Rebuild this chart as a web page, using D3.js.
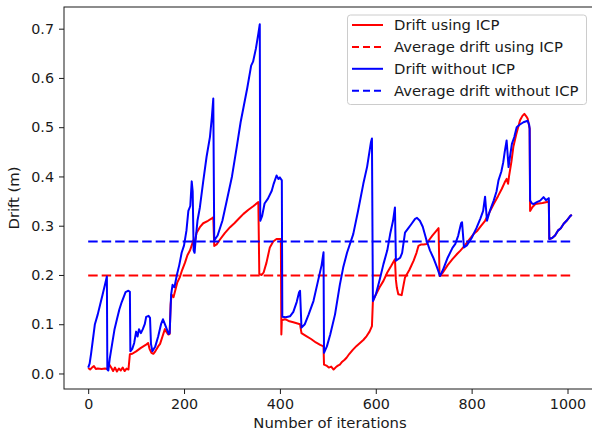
<!DOCTYPE html>
<html><head><meta charset="utf-8">
<script src="https://cdn.jsdelivr.net/npm/d3@7"></script>
<style>
body{margin:0;background:#fff;}
svg{display:block;font-family:"DejaVu Sans",sans-serif;}
</style></head>
<body><svg id="c" width="592" height="436"></svg>
<script>
const iterRed = [0,4,8,12,16,20,28,35,40,44,48,52,56,60,64,68,72,76,80,84,87,92,100,110,120,125,128,132,136,140,146,150,155,160,163,167,170,172,174,178,182,186,191,196,202,207,212,216,219,222,226,233,240,250,258,261,263,268,275,285,296,305,315,324,335,345,355,357,362,366,372,379,386,393,402,403,404,410,414,420,428,435,442,445,455,465,475,484,491,492,497,502,507,512,517,521,525,530,535,539,545,552,560,567,574,581,587,592,594,600,608,616,624,632,640,642,644,647,654,658,661,670,679,685,689,695,700,706,712,718,725,731,733,740,750,760,770,776,786,795,804,812,820,828,836,846,855,863,869,873,876,878,883,887,893,901,906,910,914,917,921,922,927,933,940,948,957,961,962,968,974,980,986,992,998,1006,1009];
const driftRed = [0.011,0.008,0.012,0.015,0.009,0.010,0.009,0.010,0.009,0.018,0.012,0.005,0.012,0.004,0.010,0.006,0.012,0.005,0.010,0.008,0.039,0.040,0.045,0.052,0.058,0.062,0.050,0.042,0.040,0.045,0.055,0.060,0.075,0.090,0.085,0.079,0.080,0.140,0.160,0.155,0.170,0.185,0.195,0.210,0.225,0.240,0.249,0.260,0.270,0.265,0.285,0.297,0.305,0.310,0.315,0.317,0.259,0.262,0.272,0.285,0.297,0.305,0.315,0.324,0.333,0.340,0.348,0.202,0.200,0.205,0.225,0.256,0.268,0.273,0.273,0.079,0.108,0.110,0.109,0.106,0.104,0.102,0.100,0.082,0.076,0.070,0.063,0.058,0.055,0.018,0.016,0.012,0.014,0.008,0.013,0.016,0.018,0.024,0.028,0.032,0.040,0.048,0.056,0.062,0.068,0.076,0.085,0.096,0.147,0.160,0.175,0.188,0.205,0.218,0.232,0.190,0.174,0.161,0.159,0.180,0.195,0.210,0.229,0.245,0.259,0.262,0.262,0.263,0.272,0.280,0.288,0.295,0.198,0.205,0.220,0.232,0.243,0.249,0.260,0.272,0.283,0.290,0.300,0.310,0.325,0.344,0.360,0.375,0.388,0.395,0.385,0.400,0.430,0.460,0.485,0.514,0.523,0.527,0.522,0.517,0.497,0.330,0.338,0.344,0.345,0.346,0.348,0.350,0.273,0.275,0.280,0.290,0.295,0.304,0.310,0.320,0.322];
const iterBlue = [0,3,6,10,14,20,25,30,35,39,40,42,45,50,55,60,65,70,74,78,84,87,88,92,96,100,103,106,110,114,118,121,126,129,131,134,140,146,152,156,160,164,168,170,173,176,180,185,190,195,200,205,209,213,216,218,220,222,224,228,233,240,247,254,258,261,263,270,280,289,300,310,318,324,332,340,344,350,355,358,359,363,368,375,383,387,393,397,400,404,405,412,421,428,435,440,442,445,452,460,470,480,487,491,492,498,505,515,525,532,540,553,563,574,582,590,592,594,600,608,616,624,630,636,640,642,651,655,661,668,674,682,686,692,698,706,713,720,728,734,740,750,760,766,772,778,780,784,790,800,810,818,824,828,832,838,846,852,856,862,866,869,873,877,880,884,889,894,900,908,914,917,920,921,922,926,929,936,943,947,950,955,960,961,962,968,974,980,986,992,998,1006,1009];
const driftBlue = [0.012,0.020,0.040,0.070,0.100,0.120,0.140,0.160,0.180,0.197,0.008,0.006,0.030,0.060,0.090,0.110,0.130,0.145,0.155,0.165,0.168,0.166,0.045,0.050,0.062,0.085,0.075,0.090,0.082,0.090,0.100,0.115,0.117,0.113,0.060,0.045,0.055,0.075,0.100,0.110,0.100,0.090,0.080,0.082,0.160,0.180,0.175,0.200,0.220,0.245,0.260,0.290,0.330,0.340,0.390,0.370,0.250,0.245,0.270,0.310,0.337,0.390,0.440,0.480,0.520,0.558,0.270,0.280,0.310,0.350,0.400,0.460,0.510,0.540,0.580,0.625,0.633,0.660,0.690,0.709,0.310,0.320,0.345,0.355,0.371,0.385,0.402,0.395,0.398,0.392,0.115,0.114,0.116,0.125,0.145,0.165,0.168,0.093,0.100,0.120,0.147,0.190,0.220,0.246,0.042,0.055,0.079,0.120,0.180,0.215,0.245,0.283,0.330,0.385,0.420,0.470,0.477,0.147,0.160,0.190,0.222,0.250,0.283,0.310,0.337,0.229,0.235,0.245,0.286,0.295,0.303,0.314,0.316,0.310,0.298,0.270,0.250,0.235,0.215,0.198,0.210,0.235,0.255,0.263,0.280,0.305,0.307,0.256,0.260,0.275,0.295,0.314,0.330,0.359,0.310,0.330,0.351,0.370,0.392,0.410,0.429,0.450,0.473,0.419,0.440,0.466,0.480,0.500,0.505,0.510,0.512,0.513,0.505,0.497,0.351,0.345,0.344,0.348,0.351,0.355,0.358,0.352,0.355,0.356,0.273,0.275,0.280,0.290,0.295,0.304,0.310,0.320,0.322];
const avgRed = 0.199;
const avgBlue = 0.268;
const avgSpan = [0, 1009];
const xTicks = [0, 200, 400, 600, 800, 1000];
const yTicks = [0.0, 0.1, 0.2, 0.3, 0.4, 0.5, 0.6, 0.7];
const legendLabels = ["Drift using ICP", "Average drift using ICP", "Drift without ICP", "Average drift without ICP"];

const svg = d3.select("#c");
const L = 64, R = 596, T = 7, B = 389;
const x = d3.scaleLinear().domain([-50.45, 1059.45]).range([L, R]);
const y = d3.scaleLinear().domain([-0.0315, 0.744]).range([B, T]);
const ink = "#1a1a1a";

const xa = svg.append("g").attr("transform", `translate(0,${B})`)
  .call(d3.axisBottom(x).tickValues(xTicks).tickFormat(d3.format("d")).tickSize(5).tickPadding(5));
const ya = svg.append("g").attr("transform", `translate(${L},0)`)
  .call(d3.axisLeft(y).tickValues(yTicks).tickFormat(d3.format(".1f")).tickSize(5).tickPadding(5));
[xa, ya].forEach(a => {
  a.select(".domain").remove();
  a.selectAll("line").attr("stroke", ink).attr("stroke-width", 1);
  a.selectAll("text").attr("fill", ink).style("font-size", "14.3px").style("font-family", "DejaVu Sans");
});

const line = d3.line().x(d => x(d[0])).y(d => y(d[1]));
const redPts = iterRed.map((v, i) => [v, driftRed[i]]);
const bluePts = iterBlue.map((v, i) => [v, driftBlue[i]]);

const plot = svg.append("g");
plot.append("path").datum(redPts).attr("d", line).attr("fill", "none")
  .attr("stroke", "#ff0000").attr("stroke-width", 2).attr("stroke-linejoin", "round");
plot.append("path").datum(avgSpan.map(v => [v, avgRed])).attr("d", line).attr("fill", "none")
  .attr("stroke", "#ff0000").attr("stroke-width", 2).attr("stroke-dasharray", "9.5,4");
plot.append("path").datum(bluePts).attr("d", line).attr("fill", "none")
  .attr("stroke", "#0000ff").attr("stroke-width", 2).attr("stroke-linejoin", "round");
plot.append("path").datum(avgSpan.map(v => [v, avgBlue])).attr("d", line).attr("fill", "none")
  .attr("stroke", "#0000ff").attr("stroke-width", 2).attr("stroke-dasharray", "9.5,4");

svg.append("rect").attr("x", L).attr("y", T).attr("width", R - L).attr("height", B - T)
  .attr("fill", "none").attr("stroke", ink).attr("stroke-width", 1);

svg.append("text").attr("x", (L + R) / 2).attr("y", 428).attr("text-anchor", "middle")
  .attr("fill", ink).style("font-size", "14.8px").text("Number of iterations");
svg.append("text").attr("transform", `translate(19,${(T + B) / 2}) rotate(-90)`)
  .attr("text-anchor", "middle").attr("fill", ink).style("font-size", "14.8px").text("Drift (m)");

const lg = svg.append("g");
lg.append("rect").attr("x", 347.5).attr("y", 15).attr("width", 239).attr("height", 89.5)
  .attr("rx", 3).attr("fill", "#fff").attr("fill-opacity", 0.8).attr("stroke", "#cccccc").attr("stroke-width", 1);
const colors = ["#ff0000", "#ff0000", "#0000ff", "#0000ff"];
const dashed = [false, true, false, true];
legendLabels.forEach((lab, i) => {
  const cy = 25 + i * 21.9;
  lg.append("line").attr("x1", 352).attr("x2", 383).attr("y1", cy).attr("y2", cy)
    .attr("stroke", colors[i]).attr("stroke-width", 2)
    .attr("stroke-dasharray", dashed[i] ? "7,4" : null);
  lg.append("text").attr("x", 394).attr("y", cy).attr("dy", "0.35em")
    .attr("fill", ink).style("font-size", "14.8px").text(lab);
});
</script></body></html>
